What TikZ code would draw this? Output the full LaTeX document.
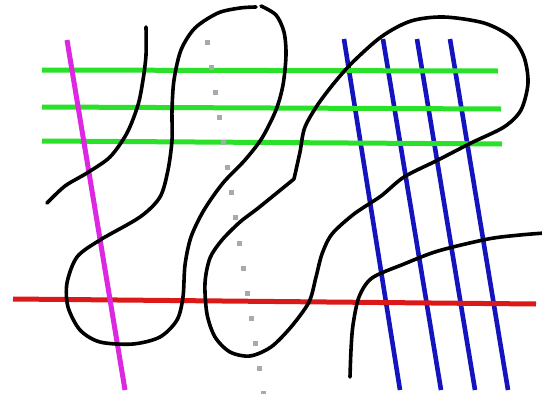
\documentclass[tikz,border=0pt]{standalone}
\usepackage{tikz}

\definecolor{gitgruen}{RGB}{40,225,40}
\definecolor{gitblau}{RGB}{20,20,190}
\definecolor{gitrot}{RGB}{220,25,25}
\definecolor{gitmagenta}{RGB}{220,40,225}
\definecolor{gitgrau}{RGB}{170,170,170}

\begin{document}
\begin{tikzpicture}[x=1pt, y=-1pt,
	kurve/.style={draw=black, line width=3.6pt, line cap=round, line join=round},
	gerade/.style={line width=5pt}]
	\useasboundingbox (0,0) rectangle (542,394);
	\clip (0,0) rectangle (542,394);

	% Blaue Geraden (rechts)
	\draw[gerade, gitblau, line width=4.6pt] (344,39) -- (400,390);
	\draw[gerade, gitblau, line width=4.6pt] (383,39) -- (441,390);
	\draw[gerade, gitblau, line width=4.6pt] (417,39) -- (475,390);
	\draw[gerade, gitblau, line width=4.6pt] (450,39) -- (508,390);

	% Gruene Geraden (oben)
	\draw[gerade, gitgruen] (42,70) -- (498,71);
	\draw[gerade, gitgruen] (42,107) -- (501,109);
	\draw[gerade, gitgruen] (42,141) -- (502,144);

	% Rote Gerade (unten)
	\draw[gerade, gitrot] (13,299) -- (536,304);

	% Magenta Gerade (links)
	\draw[gerade, gitmagenta] (67,40) -- (125,390);

	% Graue Punkte
	\foreach \i in {0,...,14}
		\fill[gitgrau] ({205+4*\i},{40+25.07*\i}) rectangle ++(5,5);

	% Kurve links oben
	\draw[kurve] plot[smooth] coordinates {(146,27) (146,55) (143,80) (138,105) (127,133) (110,157) (87,173) (65,186) (47,203)};

	% Schlaufe links
	\draw[kurve] plot[smooth] coordinates {(261,6) (276,15) (284,32) (286,55) (283,85) (276,110) (262,138) (245,160) (223,183) (204,210) (191,237) (185,265) (183,297) (177,320) (160,337) (133,344) (100,342) (80,330) (68,307) (67,283) (77,257) (100,240) (140,217) (160,197) (168,170) (172,140) (172,110) (174,80) (181,50) (195,28) (218,13) (240,8) (256,7)};

	% Grosse Schlaufe rechts
	\draw[kurve] plot[smooth] coordinates {(294,179) (300,152) (305,127) (321,100) (348,67) (381,37) (411,21) (444,17) (484,23) (511,37) (524,57) (528,83) (521,110) (504,127) (471,143) (438,160) (404,177) (381,196) (354,214) (332,234) (322,254) (316,277) (309,302) (291,327) (271,347) (250,356) (230,352) (215,337) (207,314) (205,283) (210,258) (222,240) (240,222) (257,209) (278,192) (294,179)};

	% Kurve rechts unten
	\draw[kurve] plot[smooth] coordinates {(350,377) (351,350) (353,325) (359,297) (372,278) (404,264) (438,251) (488,239) (520,235) (545,233)};
\end{tikzpicture}
\end{document}
